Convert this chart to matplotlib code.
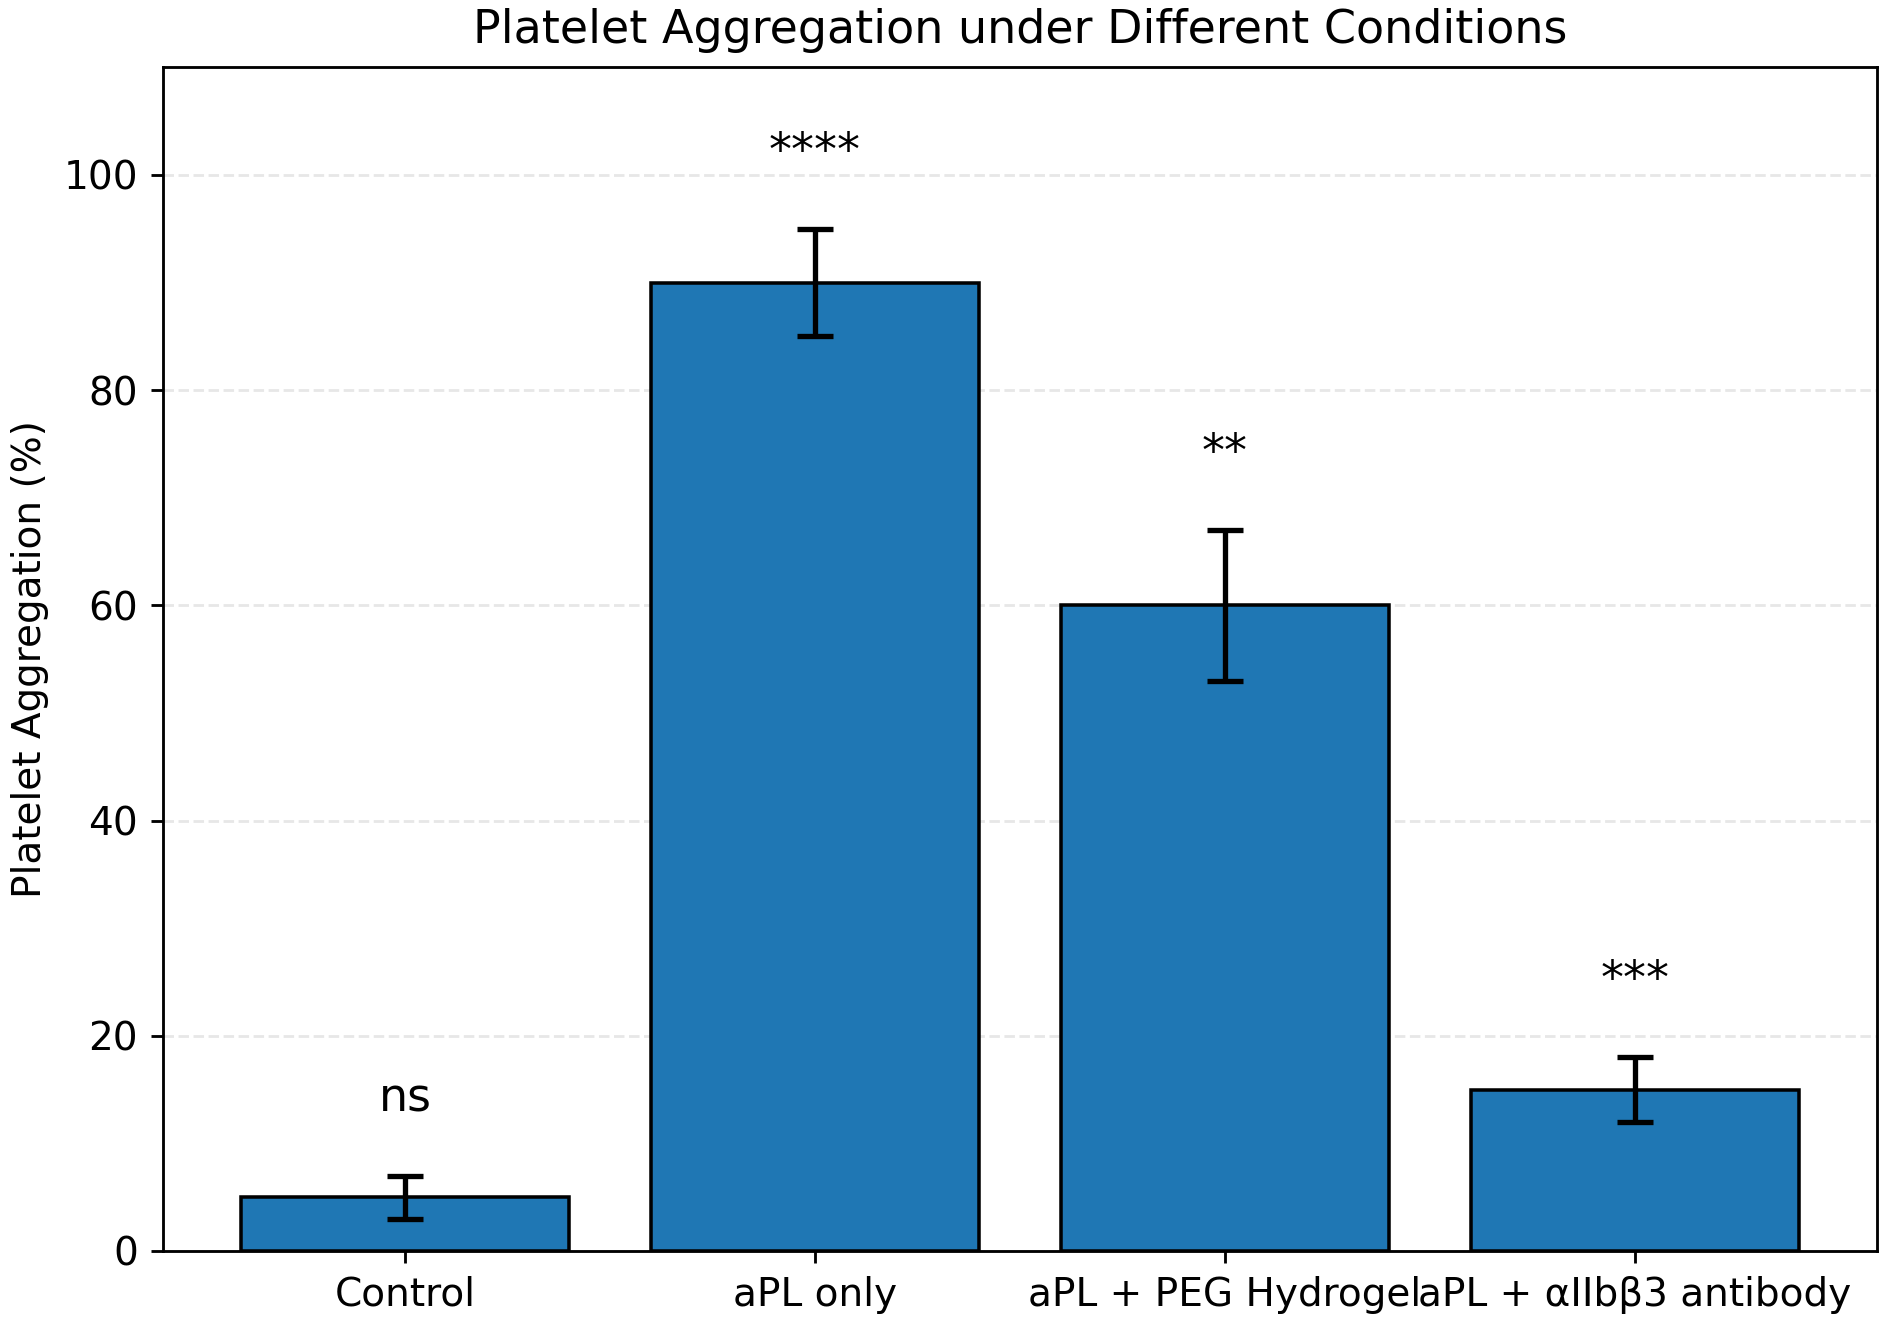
import matplotlib.pyplot as plt
import numpy as np

groups = ['Control', 'aPL only', 'aPL + PEG Hydrogel', 'aPL + αIIbβ3 antibody']
means = [5, 90, 60, 15]
errs = [2, 5, 7, 3]
sig = ['ns', '****', '**', '***']

dpi = 255
fig = plt.figure(figsize=(1884 / dpi, 1320 / dpi), dpi=dpi)
ax = fig.add_axes([0.0865, 0.0523, 0.9098, 0.8967])

x = np.arange(len(groups))
ax.bar(x, means, yerr=errs, width=0.8, color='#1f77b4', edgecolor='black',
       linewidth=1, capsize=5, error_kw={'elinewidth': 1.5, 'capthick': 1.5})

for i in range(len(groups)):
    ax.text(x[i], means[i] + errs[i] + 5, sig[i], ha='center', va='bottom', fontsize=13)

ax.set_xticks(x)
ax.set_xticklabels(groups, fontsize=11)
ax.tick_params(axis='y', labelsize=11)
ax.set_ylim(0, 110)
ax.set_ylabel('Platelet Aggregation (%)', fontsize=11)
ax.set_title('Platelet Aggregation under Different Conditions', fontsize=13, pad=7)
ax.yaxis.grid(True, linestyle='--', alpha=0.3)
ax.set_axisbelow(True)

fig.savefig('out.png', dpi=dpi)
